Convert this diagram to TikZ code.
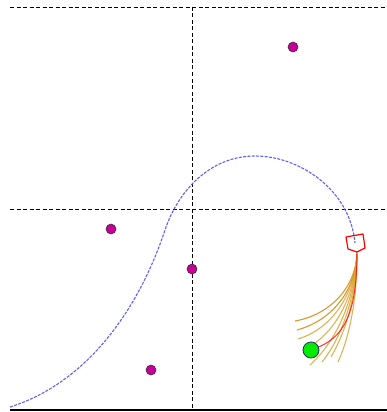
\documentclass[tikz,border=0pt]{standalone}
\usetikzlibrary{calc}
\definecolor{ptfill}{RGB}{196,0,150}
\definecolor{ptdraw}{RGB}{70,40,60}
\definecolor{pathblue}{RGB}{95,95,250}
\definecolor{fangold}{RGB}{215,160,40}
\definecolor{fanorange}{RGB}{210,135,10}
\definecolor{goalgreen}{RGB}{0,235,0}
\definecolor{goaldraw}{RGB}{40,40,120}
\begin{document}
\begin{tikzpicture}[x=1pt,y=-1pt,
  axisline/.style={black,line width=0.8pt,dash pattern=on 4pt off 2.5pt},
  obstacle/.style={circle,fill=ptfill,draw=ptdraw,line width=0.6pt,minimum size=10pt,inner sep=0pt},
  goal/.style={circle,fill=goalgreen,draw=goaldraw,line width=0.8pt,minimum size=16pt,inner sep=0pt},
  fanline/.style={fangold,opacity=0.8,line width=1.1pt},
  fanline2/.style={fanorange,opacity=0.85,line width=1.1pt}]
\useasboundingbox (0,0) rectangle (387,412);
% frame lines
\coordinate (tl) at (10,7);
\coordinate (tr) at (387,7);
\coordinate (ml) at (10,209);
\coordinate (mr) at (387,209);
\coordinate (vt) at (192,7);
\coordinate (vb) at (192,410);
\coordinate (bl) at (10,410);
\coordinate (br) at (387,410);
\draw[axisline] (tl) -- (tr);
\draw[axisline] (ml) -- (mr);
\draw[axisline] (vt) -- (vb);
\draw[black,line width=2.2pt] (bl) -- (br);
% blue path
\coordinate (p0) at (10,407);
\coordinate (p1) at (165,230);
\coordinate (p2) at (255,156);
\coordinate (p3) at (355,243);
\draw[pathblue,line width=1.1pt,dash pattern=on 3pt off 1.3pt]
  (p0) .. controls (80,385) and (135,320) .. (p1)
       .. controls (178,191) and (210,156) .. (p2)
       .. controls (300,156) and (350,190) .. (p3);
% fan curves
\coordinate (fs) at (357,254);
\draw[fanline2] (fs) .. controls (355,292) and (325,316) .. (295,321);
\draw[fanline2] (fs) .. controls (355,296) and (327,322) .. (297,330);
\draw[fanline] (fs) .. controls (354,300) and (328,330) .. (298,339);
\draw[fanline] (fs) .. controls (354,304) and (330,338) .. (303,350);
\draw[fanline] (fs) .. controls (354,308) and (332,345) .. (310,365);
\draw[fanline] (fs) .. controls (355,308) and (336,345) .. (322,362);
\draw[fanline] (fs) .. controls (356,305) and (342,338) .. (331,357);
\draw[fanline] (fs) .. controls (357,305) and (348,340) .. (338,362);
% robot
\node[goal] (g) at (311,350) {};
\coordinate (rs) at (357,251);
\draw[red,line width=1pt,opacity=0.8] (rs) .. controls (357,305) and (348,335) .. (g);
\draw[red,line width=1.2pt,line join=round] (346,237) -- (363,234) -- (365,248) -- (357,252) -- (348,249) -- cycle;
% obstacles
\node[obstacle] (o1) at (293,47) {};
\node[obstacle] (o2) at (111,229) {};
\node[obstacle] (o3) at (192,269) {};
\node[obstacle] (o4) at (151,370) {};
\end{tikzpicture}
\end{document}
